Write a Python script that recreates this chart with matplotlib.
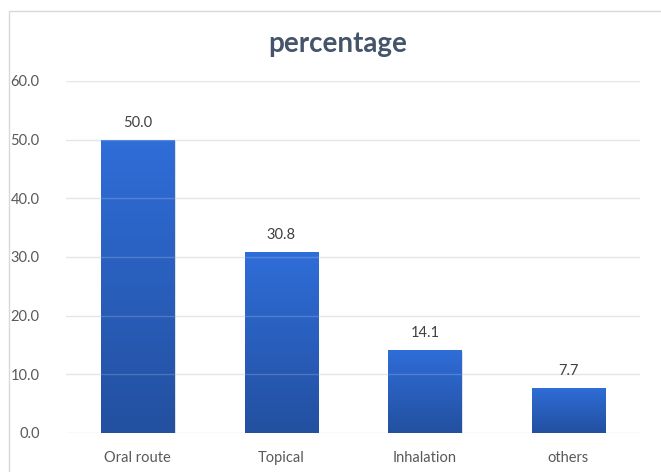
import matplotlib.pyplot as plt
import numpy as np
from matplotlib.patches import Rectangle
from matplotlib.colors import LinearSegmentedColormap

plt.rcParams['font.family'] = ['Lato', 'DejaVu Sans']

categories = ['Oral route', 'Topical', 'Inhalation', 'others']
values = [50.0, 30.8, 14.1, 7.7]
yticks = [0, 10, 20, 30, 40, 50, 60]

fig = plt.figure(figsize=(6.61, 4.72), dpi=100)
# outer chart border (right and bottom run off the image)
fig.patches.append(Rectangle((8.5 / 661, -0.1), 1.2, 1.1 - 10.5 / 472,
                             transform=fig.transFigure, fill=False,
                             edgecolor='#D6DAE0', linewidth=1.0))

ax = fig.add_axes([66 / 661, 39 / 472, 574 / 661, 352 / 472])

for t in yticks:
    ax.axhline(t, color='#DDE1E7', linewidth=1.0, zorder=0)

cmap = LinearSegmentedColormap.from_list('bar', ['#2350A0', '#2F6DD8'])
grad = np.linspace(0, 1, 256).reshape(-1, 1)
w = 0.51
for i, v in enumerate(values):
    # soft shadow
    sh = Rectangle((i - w / 2 + 0.01, -0.3), w, v, facecolor='#000000',
                   alpha=0.12, edgecolor='none', zorder=1)
    ax.add_patch(sh)
    rect = Rectangle((i - w / 2, 0), w, v, facecolor='none', edgecolor='none', zorder=2)
    ax.add_patch(rect)
    im = ax.imshow(grad, cmap=cmap, aspect='auto', origin='lower',
                   extent=(i - w / 2, i + w / 2, 0, v), zorder=2)
    im.set_clip_path(rect)
    ax.text(i, v + 1.7, f'{v:.1f}', ha='center', va='bottom',
            fontsize=10.5, color='#404040', zorder=4)

for t in yticks[1:]:
    ax.axhline(t, color='#FFFFFF', alpha=0.18, linewidth=1.0, zorder=3)

ax.set_xlim(-0.5, 3.5)
ax.set_ylim(0, 60)
ax.set_xticks(range(len(categories)))
ax.set_xticklabels(categories)
ax.set_yticks(yticks)
ax.set_yticklabels([f'{t:.1f}' for t in yticks])
ax.tick_params(axis='both', length=0, labelsize=10.5, labelcolor='#595959')
ax.tick_params(axis='y', pad=19)
ax.tick_params(axis='x', pad=13)
for s in ax.spines.values():
    s.set_visible(False)

fig.text(338 / 661, 1 - 44 / 472, 'percentage', ha='center',
         va='center', fontsize=20, fontweight='bold', color='#44546A')

fig.savefig('out.png', dpi=100)
